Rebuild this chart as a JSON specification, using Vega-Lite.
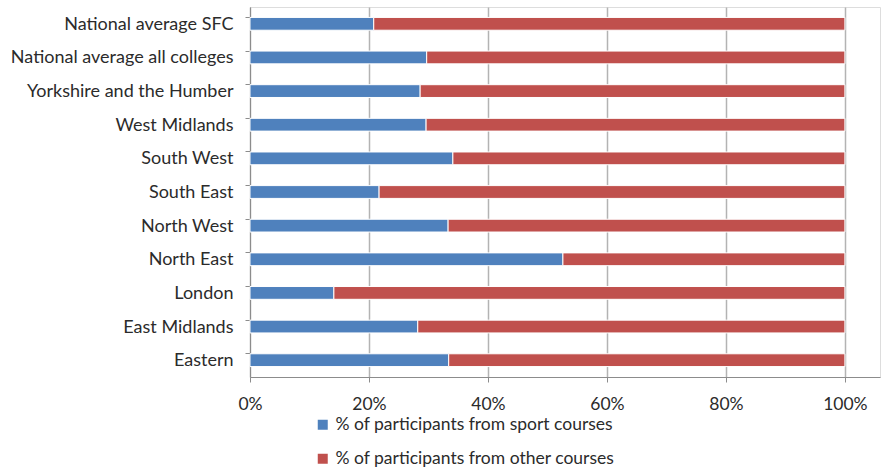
{
  "$schema": "https://vega.github.io/schema/vega-lite/v6.json",
  "autosize": "none",
  "width": 630,
  "height": 370,
  "padding": {"left": 250, "top": 7, "right": 3, "bottom": 93},
  "background": "white",
  "data": {
    "values": [
      {"region": "National average SFC", "series": "% of participants from sport courses", "k": 1, "value": 0.208},
      {"region": "National average SFC", "series": "% of participants from other courses", "k": 2, "value": 0.792},
      {"region": "National average all colleges", "series": "% of participants from sport courses", "k": 1, "value": 0.297},
      {"region": "National average all colleges", "series": "% of participants from other courses", "k": 2, "value": 0.703},
      {"region": "Yorkshire and the Humber", "series": "% of participants from sport courses", "k": 1, "value": 0.286},
      {"region": "Yorkshire and the Humber", "series": "% of participants from other courses", "k": 2, "value": 0.714},
      {"region": "West Midlands", "series": "% of participants from sport courses", "k": 1, "value": 0.296},
      {"region": "West Midlands", "series": "% of participants from other courses", "k": 2, "value": 0.704},
      {"region": "South West", "series": "% of participants from sport courses", "k": 1, "value": 0.341},
      {"region": "South West", "series": "% of participants from other courses", "k": 2, "value": 0.659},
      {"region": "South East", "series": "% of participants from sport courses", "k": 1, "value": 0.217},
      {"region": "South East", "series": "% of participants from other courses", "k": 2, "value": 0.783},
      {"region": "North West", "series": "% of participants from sport courses", "k": 1, "value": 0.333},
      {"region": "North West", "series": "% of participants from other courses", "k": 2, "value": 0.667},
      {"region": "North East", "series": "% of participants from sport courses", "k": 1, "value": 0.526},
      {"region": "North East", "series": "% of participants from other courses", "k": 2, "value": 0.474},
      {"region": "London", "series": "% of participants from sport courses", "k": 1, "value": 0.141},
      {"region": "London", "series": "% of participants from other courses", "k": 2, "value": 0.859},
      {"region": "East Midlands", "series": "% of participants from sport courses", "k": 1, "value": 0.282},
      {"region": "East Midlands", "series": "% of participants from other courses", "k": 2, "value": 0.718},
      {"region": "Eastern", "series": "% of participants from sport courses", "k": 1, "value": 0.334},
      {"region": "Eastern", "series": "% of participants from other courses", "k": 2, "value": 0.666}
    ]
  },
  "mark": {"type": "bar", "stroke": "white", "strokeWidth": 1},
  "encoding": {
    "y": {
      "field": "region",
      "type": "nominal",
      "sort": ["National average SFC", "National average all colleges", "Yorkshire and the Humber", "West Midlands", "South West", "South East", "North West", "North East", "London", "East Midlands", "Eastern"],
      "scale": {"paddingInner": 0.62, "paddingOuter": 0.31},
      "axis": {
        "title": null,
        "bandPosition": 0,
        "domainColor": "#8c8c8c",
        "tickColor": "#8c8c8c",
        "tickSize": 5,
        "labelFont": "Lato",
        "labelFontSize": 18,
        "labelLimit": 300,
        "labelColor": "#2b2b2b",
        "labelPadding": 12,
        "labelBaseline": "middle",
        "labelOffset": 1,
        "grid": false
      }
    },
    "x": {
      "field": "value",
      "type": "quantitative",
      "stack": "zero",
      "scale": {"domain": [0, 1.059], "nice": false},
      "axis": {
        "title": null,
        "values": [0, 0.2, 0.4, 0.6, 0.8, 1.0],
        "format": ".0%",
        "labelFlush": false,
        "domainColor": "#8c8c8c",
        "tickColor": "#8c8c8c",
        "tickSize": 5,
        "gridColor": "#b3b3b3",
        "gridWidth": 1.5,
        "labelFont": "Lato",
        "labelFontSize": 17.5,
        "labelColor": "#2b2b2b",
        "labelPadding": 13
      }
    },
    "color": {
      "field": "series",
      "type": "nominal",
      "scale": {
        "domain": ["% of participants from sport courses", "% of participants from other courses"],
        "range": ["#4f81bd", "#c0504d"]
      },
      "legend": {
        "title": null,
        "orient": "none",
        "legendX": 64,
        "legendY": 409,
        "direction": "vertical",
        "symbolType": "square",
        "symbolSize": 100,
        "symbolStrokeWidth": 0,
        "labelFont": "Lato",
        "labelFontSize": 17.5,
        "labelLimit": 400,
        "labelColor": "#2b2b2b",
        "labelOffset": 4,
        "rowPadding": 15
      }
    },
    "order": {"field": "k", "type": "quantitative"}
  }
}
